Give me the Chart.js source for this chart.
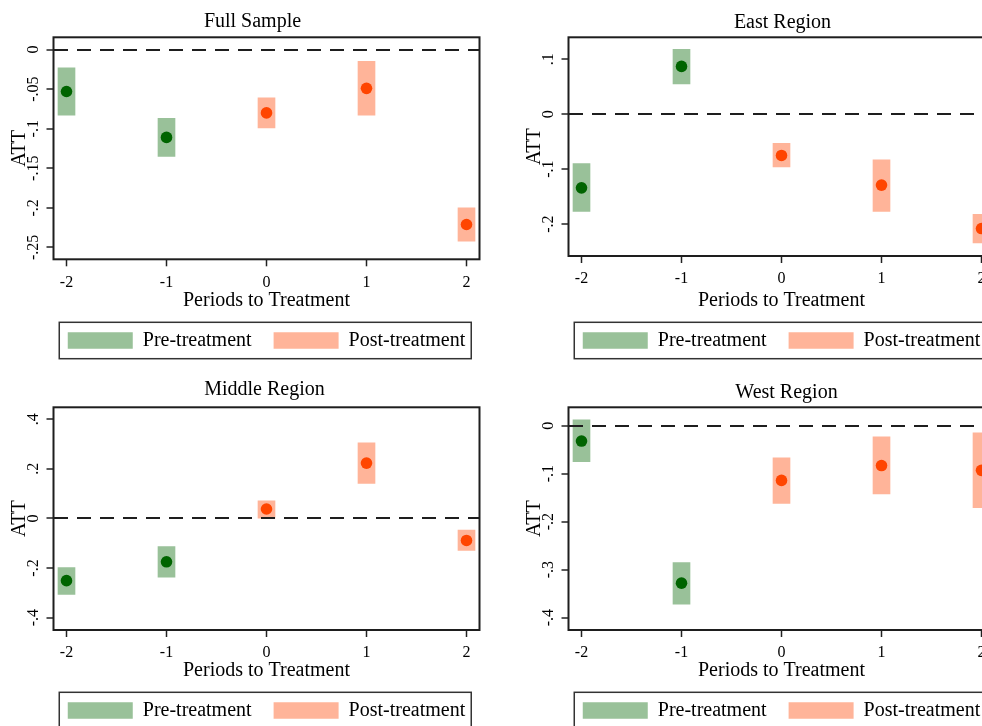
<!DOCTYPE html>
<html>
<head>
<meta charset="utf-8">
<title>ATT by period to treatment</title>
<script src="https://cdn.jsdelivr.net/npm/chart.js@4.4.1/dist/chart.umd.min.js"></script>
<style>
  html, body { margin: 0; padding: 0; background: #fff; }
  #grid { position: relative; width: 982px; height: 726px; overflow: hidden; background: #fff; }
  #grid canvas { position: absolute; }
</style>
</head>
<body>
<div id="grid">
  <canvas id="full" width="533" height="370" style="left:0;top:0"></canvas>
  <canvas id="east" width="533" height="370" style="left:515px;top:0"></canvas>
  <canvas id="middle" width="533" height="370" style="left:0;top:370px"></canvas>
  <canvas id="west" width="533" height="370" style="left:515px;top:370px"></canvas>
</div>
<script>
// Periods relative to treatment (x categories)
const periods = [-2, -1, 0, 1, 2];
const xTicks = [-2, -1, 0, 1, 2];

// Full sample: point estimates and confidence bounds
const fullAtt = [-0.053, -0.111, -0.080, -0.049, -0.221];
const fullLo  = [-0.083, -0.135, -0.099, -0.083, -0.242];
const fullHi  = [-0.023, -0.087, -0.061, -0.015, -0.200];
const fullTicks = [-0.25, -0.2, -0.15, -0.1, -0.05, 0];

// East region
const eastAtt = [-0.134, 0.087, -0.075, -0.129, -0.208];
const eastLo  = [-0.177, 0.055, -0.096, -0.177, -0.234];
const eastHi  = [-0.090, 0.118, -0.053, -0.083, -0.182];
const eastTicks = [-0.2, -0.1, 0, 0.1];

// Middle region
const middleAtt = [-0.251, -0.175, 0.038, 0.223, -0.089];
const middleLo  = [-0.307, -0.237, 0.001, 0.141, -0.129];
const middleHi  = [-0.198, -0.114, 0.071, 0.305, -0.047];
const middleTicks = [-0.4, -0.2, 0, 0.2, 0.4];

// West region
const westAtt = [-0.032, -0.328, -0.114, -0.083, -0.093];
const westLo  = [-0.075, -0.372, -0.162, -0.142, -0.171];
const westHi  = [0.012, -0.285, -0.067, -0.023, -0.015];
const westTicks = [-0.4, -0.3, -0.2, -0.1, 0];

const FONT = '"Liberation Serif", "Times New Roman", serif';
Chart.defaults.font.family = FONT;
Chart.defaults.color = '#000';

// Stata-style tick labels: drop the leading zero (-.05, .1)
function fmt(v) {
  if (Math.abs(v) < 1e-9) return '0';
  return String(+v.toFixed(3)).replace(/^(-?)0\./, '$1.');
}

const Y_AXIS_W = 53.5;
const TICK_LEN = 7;
const LABEL_CENTER = 33.5;
const TICK_SIZE = 16;

// padding that puts the centre of the rotated y labels at LABEL_CENTER
function yLabelPadding(ticks) {
  const c = document.createElement('canvas').getContext('2d');
  c.font = TICK_SIZE + 'px ' + FONT;
  const w = Math.max(...ticks.map(v => c.measureText(fmt(v)).width));
  return Y_AXIS_W - TICK_LEN - LABEL_CENTER - w / 2;
}

// Plot-region outline, boxed legend and title nudge
const framePlugin = {
  id: 'frame',
  afterLayout(chart, args, opts) {
    const t = chart.titleBlock;
    if (t && opts.titleShift) { t.left += opts.titleShift; t.right += opts.titleShift; }
  },
  afterDraw(chart) {
    const { ctx, chartArea: a } = chart;
    ctx.save();
    ctx.strokeStyle = '#1e1e1e';
    ctx.lineWidth = 2;
    ctx.strokeRect(a.left, a.top, a.right - a.left, a.bottom - a.top);
    const hb = chart.legend && chart.legend.legendHitBoxes;
    if (hb && hb.length) {
      const first = hb[0], last = hb[hb.length - 1];
      const l = first.left - 8.5, r = last.left + last.width + 6;
      const t = first.top - 8.2, b = first.top + first.height + 8.2;
      ctx.lineWidth = 1.5;
      ctx.strokeStyle = '#333';
      ctx.strokeRect(l, t, r - l, b - t);
    }
    ctx.restore();
  }
};

const PRE_FILL = '#99C199', POST_FILL = '#FFB499';
const PRE_DOT = '#006400', POST_DOT = '#FF4500';

function build(p) {
  const pre = periods.map((x, i) => i).filter(i => periods[i] < 0);
  const post = periods.map((x, i) => i).filter(i => periods[i] >= 0);
  const dots = idx => idx.map(i => ({ x: periods[i], y: p.att[i] }));
  const bands = idx => idx.map(i => ({ x: periods[i], y: [p.lo[i], p.hi[i]] }));

  new Chart(document.getElementById(p.id), {
    type: 'scatter',
    data: {
      datasets: [
        { type: 'scatter', label: 'Pre estimate', data: dots(pre), backgroundColor: PRE_DOT, borderColor: PRE_DOT, borderWidth: 0, pointRadius: 5.8, order: 0 },
        { type: 'scatter', label: 'Post estimate', data: dots(post), backgroundColor: POST_DOT, borderColor: POST_DOT, borderWidth: 0, pointRadius: 5.8, order: 0 },
        { type: 'bar', label: 'Pre-treatment', data: bands(pre), backgroundColor: PRE_FILL, borderWidth: 0, barThickness: 17, grouped: false, order: 1 },
        { type: 'bar', label: 'Post-treatment', data: bands(post), backgroundColor: POST_FILL, borderWidth: 0, barThickness: 17, grouped: false, order: 1 }
      ]
    },
    options: {
      responsive: false,
      animation: false,
      events: [],
      devicePixelRatio: 1,
      layout: { padding: { left: 0, right: 0, top: 0, bottom: 9.5 } },
      plugins: {
        tooltip: { enabled: false },
        frame: { titleShift: p.shift },
        title: {
          display: true, text: p.title, color: '#000',
          font: { size: 20, weight: 'normal' },
          padding: { top: p.tTop, bottom: p.tBottom }
        },
        legend: {
          display: true, position: 'bottom', fullSize: true, align: 'center',
          labels: {
            filter: item => item.datasetIndex >= 2,
            boxWidth: 65, boxHeight: 16.5, padding: 22,
            color: '#000', font: { size: 20 }
          }
        }
      },
      scales: {
        x: {
          type: 'linear', position: 'bottom', min: -2.13, max: 2.13, offset: false,
          afterBuildTicks: s => { s.ticks = xTicks.map(v => ({ value: v })); },
          afterFit: s => { s.height = p.xh; },
          grid: { offset: false, drawOnChartArea: false, drawTicks: true, tickLength: TICK_LEN, tickColor: '#222', tickWidth: 1.5 },
          border: { display: false },
          ticks: { autoSkip: false, maxRotation: 0, padding: 6.5, color: '#000', font: { size: TICK_SIZE }, callback: v => String(v) },
          title: { display: true, text: 'Periods to Treatment', color: '#000', font: { size: 20 }, padding: { top: 0, bottom: -4.5 } }
        },
        y: {
          type: 'linear', position: 'left', min: p.yMin, max: p.yMax,
          afterBuildTicks: s => { s.ticks = p.yTicks.map(v => ({ value: v })); },
          afterFit: s => { s.width = Y_AXIS_W; },
          grid: {
            z: 1, drawOnChartArea: true, drawTicks: true, tickLength: TICK_LEN, tickColor: '#222', tickWidth: 1.5,
            lineWidth: 2, color: c => (c.tick && Math.abs(c.tick.value) < 1e-9) ? '#1e1e1e' : 'rgba(0,0,0,0)'
          },
          border: { display: false, dash: [14, 9] },
          ticks: {
            autoSkip: false, minRotation: 90, maxRotation: 90, crossAlign: 'center',
            padding: yLabelPadding(p.yTicks), color: '#000', font: { size: TICK_SIZE }, callback: v => fmt(v)
          },
          title: { display: true, text: 'ATT', color: '#000', font: { size: 20 }, padding: { top: 8, bottom: 0 } }
        },
        yr: {
          type: 'linear', position: 'right', display: true,
          afterFit: s => { s.width = Y_AXIS_W; },
          grid: { display: false, drawTicks: false },
          border: { display: false },
          ticks: { display: false }
        }
      }
    },
    plugins: [framePlugin]
  });
}

[
  { id: 'full', title: 'Full Sample', att: fullAtt, lo: fullLo, hi: fullHi, yTicks: fullTicks, yMin: -0.265, yMax: 0.0155, xh: 49.2, tTop: 9.3, tBottom: 4, shift: -14 },
  { id: 'east', title: 'East Region', att: eastAtt, lo: eastLo, hi: eastHi, yTicks: eastTicks, yMin: -0.258, yMax: 0.140, xh: 52.5, tTop: 10.7, tBottom: 2.6, shift: 1 },
  { id: 'middle', title: 'Middle Region', att: middleAtt, lo: middleLo, hi: middleHi, yTicks: middleTicks, yMin: -0.450, yMax: 0.448, xh: 48.5, tTop: 8, tBottom: 5.3, shift: -2 },
  { id: 'west', title: 'West Region', att: westAtt, lo: westLo, hi: westHi, yTicks: westTicks, yMin: -0.4256, yMax: 0.0383, xh: 48.5, tTop: 10.7, tBottom: 2.6, shift: 5 }
].forEach(build);
</script>
</body>
</html>
